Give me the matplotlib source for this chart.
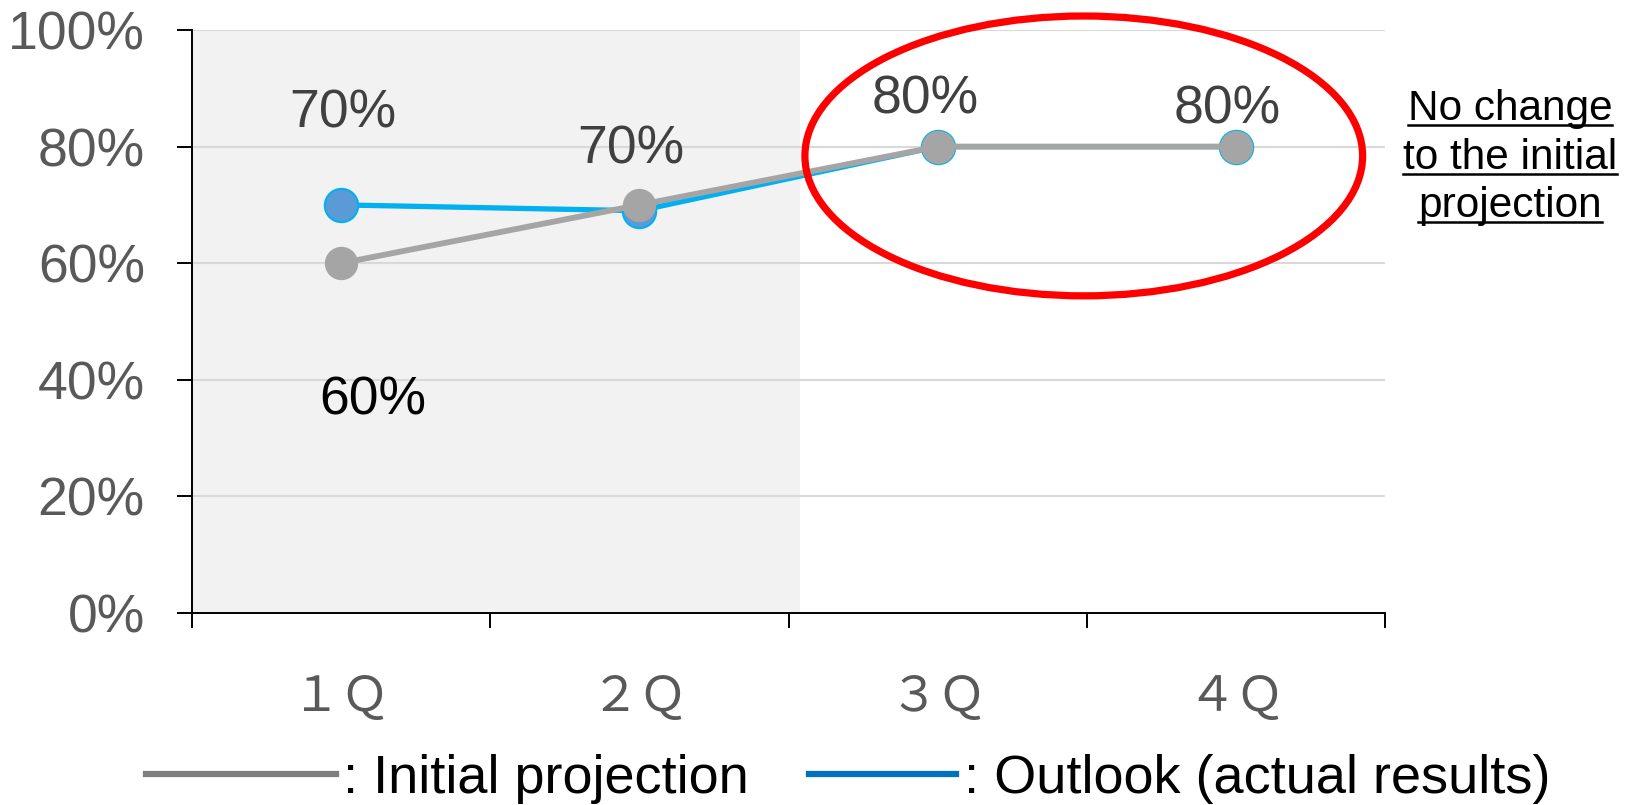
import matplotlib
matplotlib.use("Agg")
import matplotlib.pyplot as plt
from matplotlib.patches import Ellipse
from matplotlib.lines import Line2D
from matplotlib.ticker import FixedLocator, PercentFormatter

# ---- data ----
quarters = ["１Ｑ", "２Ｑ", "３Ｑ", "４Ｑ"]
initial_projection = [60, 70, 80, 80]
outlook_actual = [70, 69, 80, 80]
y_ticks = [0, 20, 40, 60, 80, 100]
label_texts = ["70%", "60%", "70%", "80%", "80%"]
label_values = [70, 60, 70, 80, 80]
label_quarters = [0, 0, 1, 2, 3]
note_lines = ["No change", "to the initial", "projection"]
legend_names = [": Initial projection", ": Outlook (actual results)"]

plt.rcParams['font.family'] = ['Liberation Sans', 'DejaVu Sans']

W, H = 1637, 805
fig = plt.figure(figsize=(W / 100, H / 100), dpi=100)
ax = fig.add_axes([192 / W, 1 - 613 / H, (1385 - 192) / W, (613 - 30) / H])

x = list(range(len(quarters)))
ax.set_xlim(-0.5, len(quarters) - 0.5)
ax.set_ylim(0, 100)

# shaded "actual" region
ax.axvspan(-0.5, 1.54, color="#f2f2f2", zorder=0, lw=0)

# grid
for v in y_ticks[1:]:
    ax.axhline(v, color="#d9d9d9", lw=1.5, zorder=1)

# series
ax.plot(x, outlook_actual, color="#00b0f0", lw=3.8, marker="o", markersize=24,
        markerfacecolor="#5b9bd5", markeredgecolor="#00b0f0", markeredgewidth=1.5,
        zorder=3, clip_on=False)
ax.plot(x, initial_projection, color="#a5a5a5", lw=4.2, marker="o", markersize=24,
        markerfacecolor="#a5a5a5", markeredgewidth=0, zorder=4, clip_on=False)

# data labels (offsets in points)
offsets = [(1, 66), (23, -99), (-6, 40), (-9, 34), (-6, 27)]
colors = ["#404040", "#000000", "#404040", "#404040", "#404040"]
for t, q, v, (dx, dy), c in zip(label_texts, label_quarters, label_values, offsets, colors):
    ax.annotate(t, (q, v), xytext=(dx, dy), textcoords="offset points",
                ha="center", va="center", fontsize=38.5, color=c, zorder=5)

# red ellipse highlighting 3Q-4Q
ax.add_patch(Ellipse((2.49, 78.4), width=1.87, height=48, fill=False,
                     edgecolor="#ff0000", lw=5.2, zorder=6, clip_on=False))

# axes styling
for s in ["top", "right"]:
    ax.spines[s].set_visible(False)
ax.spines["left"].set_color("black")
ax.spines["bottom"].set_color("black")
ax.spines["left"].set_linewidth(1.4)
ax.spines["bottom"].set_linewidth(1.4)
ax.spines["left"].set_zorder(2)
ax.spines["bottom"].set_zorder(2)

ax.yaxis.set_major_locator(FixedLocator(y_ticks))
ax.yaxis.set_major_formatter(PercentFormatter(decimals=0))
ax.tick_params(axis="y", direction="out", length=11, width=1.4, pad=23,
               labelsize=38.5, labelcolor="#595959", color="black")

ax.set_xticks(x)
ax.set_xticklabels(quarters, family=["Noto Sans CJK JP", "DejaVu Sans"])
ax.set_xticks([i - 0.5 for i in range(len(quarters) + 1)], minor=True)
ax.tick_params(axis="x", which="major", length=0, pad=43, labelsize=35,
               labelcolor="#595959")
ax.tick_params(axis="x", which="minor", direction="out", length=11, width=1.4,
               color="black")

# note text with underline
fig.canvas.draw()
renderer = fig.canvas.get_renderer()
baselines = [120, 169, 217]
for line, b in zip(note_lines, baselines):
    t = fig.text(1510 / W, 1 - b / H, line, ha="center", va="baseline",
                 fontsize=30.5, color="black")
    bb = t.get_window_extent(renderer)
    uy = 1 - (b + 5) / H
    fig.add_artist(Line2D([bb.x0 / W, bb.x1 / W], [uy, uy], color="black",
                          lw=1.8, transform=fig.transFigure))

# legend (manual)
leg_y = 1 - 774 / H
fig.add_artist(Line2D([146 / W, 336 / W], [leg_y, leg_y], color="#7f7f7f",
                      lw=4.5, transform=fig.transFigure))
fig.text(343 / W, 1 - 793 / H, legend_names[0], ha="left", va="baseline",
         fontsize=39, color="black")
fig.add_artist(Line2D([809 / W, 956 / W], [leg_y, leg_y], color="#0070c0",
                      lw=4.5, transform=fig.transFigure))
fig.text(964 / W, 1 - 793 / H, legend_names[1], ha="left", va="baseline",
         fontsize=39, color="black")

fig.savefig("out.png", dpi=100)
